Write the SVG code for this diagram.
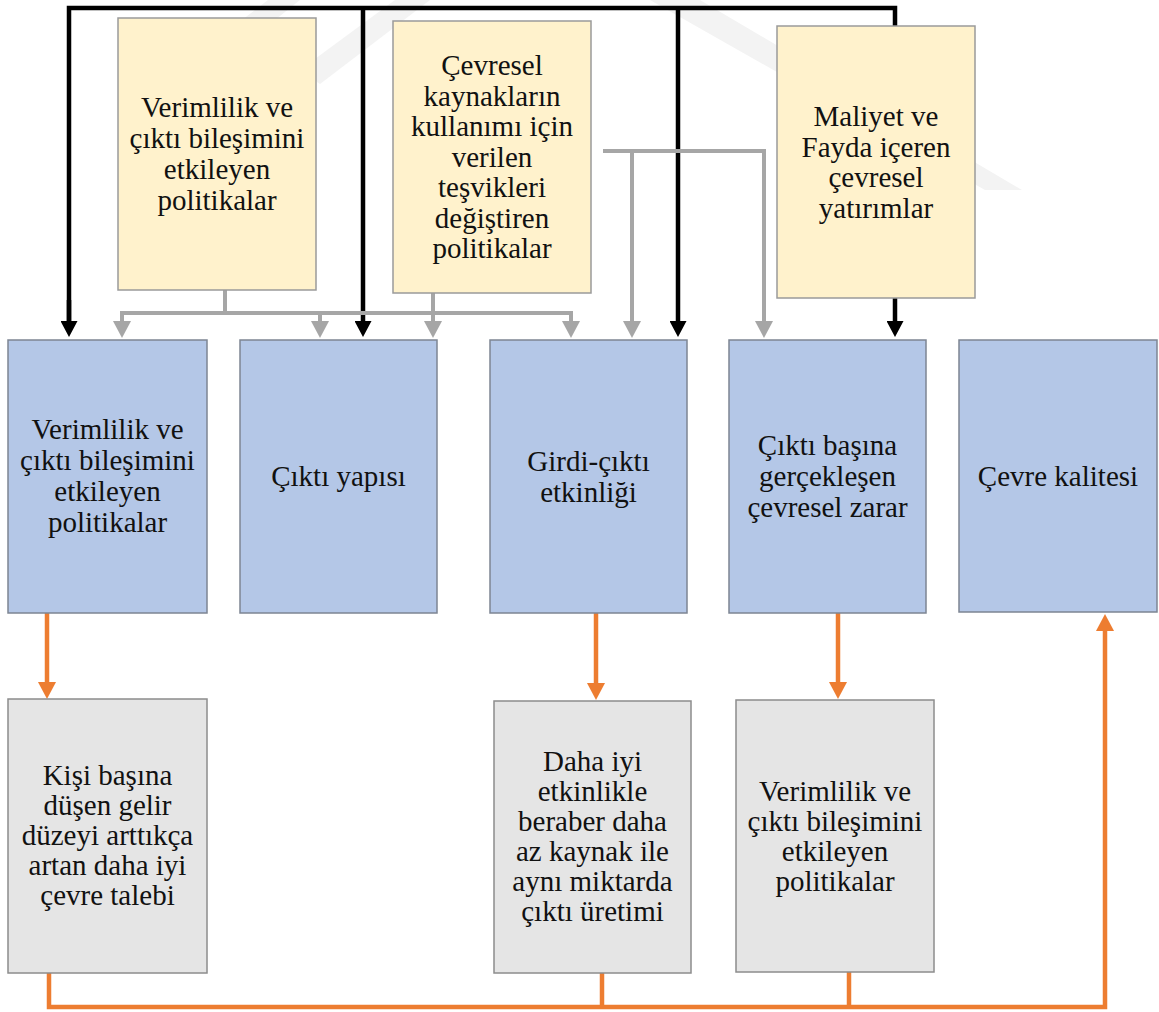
<svg xmlns="http://www.w3.org/2000/svg" width="1159" height="1012" viewBox="0 0 1159 1012">
  <style>
    .lbl { font-family: "Liberation Serif", "Times New Roman", serif; font-size: 29px; fill: #111; text-anchor: middle; }
    .policy { fill: #fff2cc; stroke: #9a9a9a; stroke-width: 1.5; }
    .factor { fill: #b4c7e7; stroke: #7d8593; stroke-width: 1.5; }
    .effect { fill: #e5e5e5; stroke: #8c8c8c; stroke-width: 1.5; }
    .blk { fill: none; stroke: #000; stroke-width: 4.5; }
    .gry { fill: none; stroke: #a6a6a6; stroke-width: 4; }
    .org { fill: none; stroke: #ed7d31; stroke-width: 4.5; }
    .mark { fill: #f3f3f3; }
  </style>
  <defs>
    <marker id="ah-blk" viewBox="0 0 16 17" refX="1" refY="8.5" markerWidth="16" markerHeight="17" markerUnits="userSpaceOnUse" orient="auto">
      <path d="M0,0 L16,8.5 L0,17 z" fill="#000"/>
    </marker>
    <marker id="ah-gry" viewBox="0 0 17 18" refX="1" refY="9" markerWidth="17" markerHeight="18" markerUnits="userSpaceOnUse" orient="auto">
      <path d="M0,0 L17,9 L0,18 z" fill="#a6a6a6"/>
    </marker>
    <marker id="ah-org" viewBox="0 0 17 18" refX="1" refY="9" markerWidth="17" markerHeight="18" markerUnits="userSpaceOnUse" orient="auto">
      <path d="M0,0 L17,9 L0,18 z" fill="#ed7d31"/>
    </marker>
  </defs>

  <rect width="1159" height="1012" fill="#fff"/>

  <!-- faint background emblem -->
  <g id="emblem">
    <polygon class="mark" points="205,48 268,0 300,0 225,60"/>
    <polygon class="mark" points="300,70 395,0 430,0 320,84"/>
    <polygon class="mark" points="650,0 700,0 1022,190 985,190"/>
  </g>

  <!-- connectors -->
  <g id="connectors">
    <!-- black feeder bus -->
    <path class="blk" d="M69,322 V8 H895 V26"/>
    <path class="blk" d="M363,8 V322" marker-end="url(#ah-blk)"/>
    <path class="blk" d="M678,8 V322" marker-end="url(#ah-blk)"/>
    <path class="blk" d="M69,300 V322" marker-end="url(#ah-blk)"/>
    <path class="blk" d="M895,298 V322" marker-end="url(#ah-blk)"/>

    <!-- gray policy links -->
    <path class="gry" d="M225,290 V313"/>
    <path class="gry" d="M433,293 V313"/>
    <path class="gry" d="M122,322 V313 H571 V322"/>
    <path class="gry" d="M122,315 V322" marker-end="url(#ah-gry)"/>
    <path class="gry" d="M320,313 V322" marker-end="url(#ah-gry)"/>
    <path class="gry" d="M433,313 V322" marker-end="url(#ah-gry)"/>
    <path class="gry" d="M571,315 V322" marker-end="url(#ah-gry)"/>
    <path class="gry" d="M603,151 H764 V322" marker-end="url(#ah-gry)"/>
    <path class="gry" d="M632,151 V322" marker-end="url(#ah-gry)"/>

    <!-- orange outcome links -->
    <path class="org" d="M47,613 V683" marker-end="url(#ah-org)"/>
    <path class="org" d="M596,613 V684" marker-end="url(#ah-org)"/>
    <path class="org" d="M838,613 V683" marker-end="url(#ah-org)"/>
    <path class="org" d="M49,973 V1007 H1105 V630" marker-end="url(#ah-org)"/>
    <path class="org" d="M602,973 V1007"/>
    <path class="org" d="M849,972 V1007"/>
  </g>

  <!-- policy boxes -->
  <g id="policy-output-mix">
    <rect class="policy" x="118" y="18" width="198" height="272"/>
    <text class="lbl" x="217"><tspan x="217" y="117">Verimlilik ve</tspan><tspan x="217" y="148">çıktı bileşimini</tspan><tspan x="217" y="179">etkileyen</tspan><tspan x="217" y="210">politikalar</tspan></text>
  </g>
  <g id="policy-incentives">
    <rect class="policy" x="393" y="21" width="198" height="272"/>
    <text class="lbl"><tspan x="492" y="75">Çevresel</tspan><tspan x="492" y="105.5">kaynakların</tspan><tspan x="492" y="136">kullanımı için</tspan><tspan x="492" y="166.5">verilen</tspan><tspan x="492" y="197">teşvikleri</tspan><tspan x="492" y="227.5">değiştiren</tspan><tspan x="492" y="258">politikalar</tspan></text>
  </g>
  <g id="policy-investments">
    <rect class="policy" x="777" y="26" width="198" height="272"/>
    <text class="lbl"><tspan x="876" y="126">Maliyet ve</tspan><tspan x="876" y="156.5">Fayda içeren</tspan><tspan x="876" y="187">çevresel</tspan><tspan x="876" y="217.5">yatırımlar</tspan></text>
  </g>

  <!-- factor boxes -->
  <g id="factor-output-mix">
    <rect class="factor" x="8" y="340" width="199" height="273"/>
    <text class="lbl"><tspan x="107.5" y="439">Verimlilik ve</tspan><tspan x="107.5" y="470">çıktı bileşimini</tspan><tspan x="107.5" y="501">etkileyen</tspan><tspan x="107.5" y="532">politikalar</tspan></text>
  </g>
  <g id="factor-structure">
    <rect class="factor" x="240" y="340" width="197" height="273"/>
    <text class="lbl" x="338.5" y="486">Çıktı yapısı</text>
  </g>
  <g id="factor-efficiency">
    <rect class="factor" x="490" y="340" width="197" height="273"/>
    <text class="lbl"><tspan x="588.5" y="470.5">Girdi-çıktı</tspan><tspan x="588.5" y="501.5">etkinliği</tspan></text>
  </g>
  <g id="factor-damage">
    <rect class="factor" x="729" y="340" width="197" height="273"/>
    <text class="lbl"><tspan x="827.5" y="455">Çıktı başına</tspan><tspan x="827.5" y="486">gerçekleşen</tspan><tspan x="827.5" y="517">çevresel zarar</tspan></text>
  </g>
  <g id="factor-quality">
    <rect class="factor" x="959" y="340" width="198" height="272"/>
    <text class="lbl" x="1058" y="486">Çevre kalitesi</text>
  </g>

  <!-- effect boxes -->
  <g id="effect-demand">
    <rect class="effect" x="8" y="699" width="199" height="274"/>
    <text class="lbl"><tspan x="107.5" y="785">Kişi başına</tspan><tspan x="107.5" y="815">düşen gelir</tspan><tspan x="107.5" y="845">düzeyi arttıkça</tspan><tspan x="107.5" y="875">artan daha iyi</tspan><tspan x="107.5" y="905">çevre talebi</tspan></text>
  </g>
  <g id="effect-efficiency">
    <rect class="effect" x="494" y="701" width="197" height="272"/>
    <text class="lbl"><tspan x="592.5" y="771">Daha iyi</tspan><tspan x="592.5" y="801">etkinlikle</tspan><tspan x="592.5" y="831">beraber daha</tspan><tspan x="592.5" y="861">az kaynak ile</tspan><tspan x="592.5" y="891">aynı miktarda</tspan><tspan x="592.5" y="921">çıktı üretimi</tspan></text>
  </g>
  <g id="effect-output-mix">
    <rect class="effect" x="736" y="700" width="198" height="272"/>
    <text class="lbl"><tspan x="835" y="801">Verimlilik ve</tspan><tspan x="835" y="831">çıktı bileşimini</tspan><tspan x="835" y="861">etkileyen</tspan><tspan x="835" y="891">politikalar</tspan></text>
  </g>
</svg>
